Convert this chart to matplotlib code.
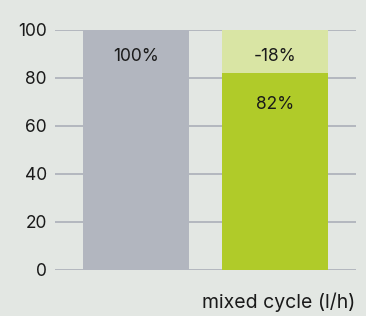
import matplotlib.pyplot as plt

plt.rcParams['font.family'] = ['Inter', 'DejaVu Sans']

# data
categories = ['reference', 'mixed cycle']
base_values = [100, 82]
saving_values = [0, 18]
base_labels = ['100%', '82%']
saving_labels = ['', '-18%']
yticks = [0, 20, 40, 60, 80, 100]

bg = '#e3e7e3'
gray = '#b2b6bf'
green = '#b0cb29'
light_green = '#d9e5a4'
txt = '#1a1a1a'

fig = plt.figure(figsize=(3.66, 3.16), dpi=100, facecolor=bg)
ax = fig.add_axes([55 / 366, 46 / 316, 301 / 366, 240 / 316], facecolor=bg)

x = range(len(categories))
ax.bar(x, base_values, width=0.763, color=[gray, green], zorder=2)
ax.bar(x, saving_values, bottom=base_values, width=0.763, color=light_green, zorder=2)

for i in x:
    top = base_values[i] + saving_values[i]
    # label of the lower segment sits a bit deeper when something is stacked on it
    off = 13 if saving_values[i] else 11
    ax.text(i, base_values[i] - off, base_labels[i], ha='center', va='center',
            fontsize=12.5, color=txt, zorder=3)
    if saving_values[i]:
        ax.text(i, top - 11, saving_labels[i], ha='center', va='center',
                fontsize=12.5, color=txt, zorder=3)

ax.set_xlim(-0.583, 1.583)
ax.set_ylim(0, 100)
ax.set_yticks(yticks)
ax.set_xticks([])
ax.yaxis.grid(True, color='#b0b4bc', linewidth=1.3, zorder=1)
ax.tick_params(axis='y', length=0, pad=6, labelsize=12.5, labelcolor=txt)
for s in ax.spines.values():
    s.set_visible(False)

fig.text(355 / 366, 8 / 316, 'mixed cycle (l/h)', ha='right', va='baseline',
         fontsize=14, color=txt)

fig.savefig('out.png', dpi=100, facecolor=bg)
